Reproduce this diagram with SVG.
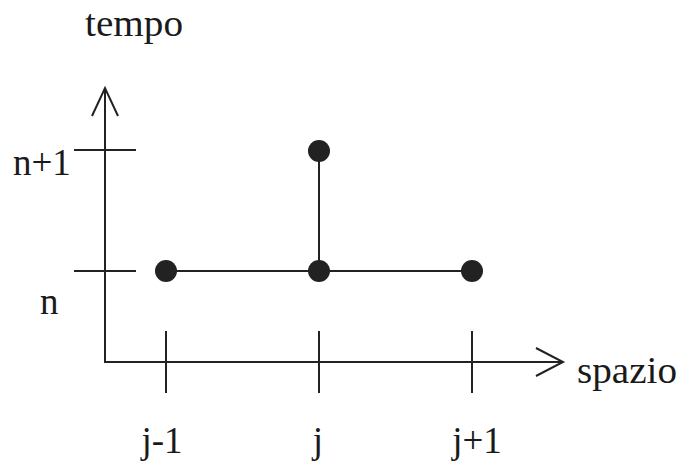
<svg xmlns="http://www.w3.org/2000/svg" width="680" height="464" viewBox="0 0 680 464">
<style>
.ln{stroke:#222;stroke-width:2;fill:none;stroke-linecap:butt}
.dot{fill:#222}
.t{font-family:"Liberation Serif","Times New Roman",serif;font-size:37px;fill:#1a1a1a}
</style>
<rect width="680" height="464" fill="#fff"/>
<g id="axes">
<path class="ln" d="M105,88 V362 H563"/>
<path class="ln" d="M92,116 L105,88 L118,116"/>
<path class="ln" d="M536,348 L563,362 L536,376"/>
<path class="ln" d="M74,150 H136 M74,271 H136"/>
<path class="ln" d="M166,331 V393 M319,331 V393 M472,331 V393"/>
</g>
<g id="connectors">
<path class="ln" d="M166,271 H472"/>
<path class="ln" d="M319,151 V271"/>
</g>
<g id="node-jm1-n"><circle class="dot" cx="166" cy="271" r="11"/></g>
<g id="node-j-n"><circle class="dot" cx="319" cy="271" r="11"/></g>
<g id="node-jp1-n"><circle class="dot" cx="472" cy="271" r="11"/></g>
<g id="node-j-n1"><circle class="dot" cx="319" cy="151" r="11"/></g>
<g id="labels">
<text class="t" x="85" y="36" textLength="98" lengthAdjust="spacingAndGlyphs">tempo</text>
<text class="t" x="13" y="175">n+1</text>
<text class="t" x="40" y="314">n</text>
<text class="t" x="577" y="383" textLength="100" lengthAdjust="spacingAndGlyphs">spazio</text>
<text class="t" x="162" y="453" text-anchor="middle">j-1</text>
<text class="t" x="318" y="453" text-anchor="middle">j</text>
<text class="t" x="477" y="453" text-anchor="middle">j+1</text>
</g>
</svg>
